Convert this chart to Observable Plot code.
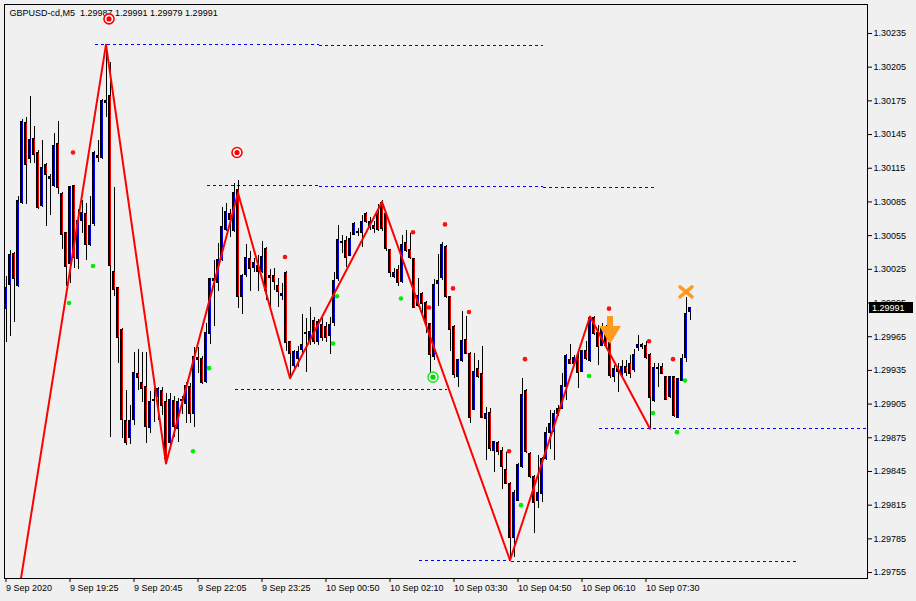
<!DOCTYPE html>
<html><head><meta charset="utf-8">
<script src="https://cdn.jsdelivr.net/npm/d3@7"></script>
<script src="https://cdn.jsdelivr.net/npm/@observablehq/plot@0.6"></script>
<style>html,body{margin:0;padding:0;background:#f0f0f0;} #chart svg{display:block}</style>
</head><body><div id="chart"></div>
<script>
const opens = [1.29990,1.30011,1.30039,1.30010,1.30084,1.30155,1.30123,1.30141,1.30129,1.30081,
1.30118,1.30107,1.30099,1.30137,1.30092,1.30057,1.30030,1.30099,1.30034,1.30068,
1.30074,1.30047,1.30065,1.30126,1.30124,1.30175,1.30179,1.30023,1.30008,1.29971,
1.29890,1.29875,1.29891,1.29932,1.29924,1.29920,1.29884,1.29909,1.29911,1.29917,
1.29907,1.29870,1.29908,1.29883,1.29908,1.29905,1.29920,1.29896,1.29946,1.29945,
1.29925,1.29967,1.30016,1.30013,1.30033,1.30060,1.30074,1.30059,1.30096,1.30000,
1.30020,1.30034,1.30026,1.30028,1.30023,1.30043,1.30019,1.30019,1.30010,1.30001,
1.30022,1.29960,1.29939,1.29945,1.29953,1.29968,1.29961,1.29979,1.29960,1.29975,
1.29974,1.29966,1.29977,1.30016,1.30048,1.30050,1.30037,1.30056,1.30057,1.30057,
1.30074,1.30062,1.30064,1.30074,1.30084,1.30074,1.30042,1.30018,1.30024,1.30014,
1.30048,1.30042,1.30034,1.29992,1.30003,1.29995,1.29976,1.29947,1.30012,1.30017,
1.30045,1.30000,1.29974,1.29929,1.29943,1.29962,1.29950,1.29900,1.29936,1.29932,
1.29892,1.29897,1.29863,1.29870,1.29863,1.29846,1.29834,1.29786,1.29819,1.29849,
1.29917,1.29861,1.29840,1.29819,1.29825,1.29856,1.29879,1.29880,1.29901,1.29901,
1.29920,1.29944,1.29941,1.29946,1.29934,1.29952,1.29943,1.29982,1.29968,1.29957,
1.29970,1.29959,1.29929,1.29936,1.29932,1.29938,1.29941,1.29935,1.29955,1.29958,
1.29957,1.29949,1.29908,1.29937,1.29938,1.29929,1.29911,1.29929,1.29893,1.29926,
1.29946,1.29987];
const highs = [1.30019,1.30042,1.30040,1.30090,1.30158,1.30160,1.30179,1.30152,1.30131,1.30140,
1.30119,1.30109,1.30146,1.30157,1.30093,1.30058,1.30099,1.30100,1.30078,1.30086,
1.30084,1.30090,1.30130,1.30140,1.30176,1.30225,1.30209,1.30098,1.30009,1.29972,
1.29917,1.29904,1.29951,1.29954,1.29951,1.29951,1.29916,1.29919,1.29920,1.29920,
1.29914,1.29914,1.29912,1.29910,1.29912,1.29924,1.29923,1.29955,1.29955,1.29947,
1.29977,1.30017,1.30033,1.30048,1.30080,1.30084,1.30078,1.30101,1.30104,1.30020,
1.30047,1.30041,1.30035,1.30037,1.30050,1.30044,1.30025,1.30026,1.30017,1.30012,
1.30023,1.29961,1.29953,1.29956,1.29985,1.29981,1.29991,1.29982,1.29980,1.29981,
1.29978,1.29982,1.30022,1.30064,1.30055,1.30054,1.30058,1.30067,1.30061,1.30073,
1.30076,1.30071,1.30068,1.30083,1.30086,1.30075,1.30043,1.30026,1.30028,1.30055,
1.30060,1.30057,1.30035,1.30017,1.30004,1.29996,1.29977,1.30016,1.30038,1.30049,
1.30046,1.30001,1.29975,1.29945,1.29987,1.29983,1.29951,1.29950,1.29944,1.29956,
1.29902,1.29901,1.29872,1.29872,1.29866,1.29862,1.29835,1.29828,1.29852,1.29928,
1.29918,1.29862,1.29841,1.29859,1.29857,1.29884,1.29899,1.29899,1.29904,1.29932,
1.29949,1.29958,1.29948,1.29952,1.29953,1.29961,1.29983,1.29983,1.29975,1.29977,
1.29975,1.29961,1.29939,1.29941,1.29944,1.29944,1.29948,1.29954,1.29966,1.29959,
1.29961,1.29950,1.29941,1.29941,1.29941,1.29930,1.29930,1.29930,1.29928,1.29949,
1.30000,1.29991];
const lows = [1.29960,1.29965,1.29978,1.30009,1.30083,1.30083,1.30119,1.30119,1.30078,1.30080,
1.30063,1.30073,1.30098,1.30092,1.30043,1.30010,1.30012,1.30026,1.30025,1.30057,
1.30033,1.30045,1.30063,1.30120,1.30123,1.30160,1.29875,1.30001,1.29941,1.29874,
1.29868,1.29869,1.29886,1.29917,1.29906,1.29870,1.29879,1.29889,1.29890,1.29895,
1.29852,1.29868,1.29875,1.29871,1.29896,1.29888,1.29888,1.29884,1.29932,1.29922,
1.29923,1.29958,1.29974,1.30005,1.30032,1.30059,1.30053,1.30058,1.29990,1.29985,
1.30018,1.30005,1.30022,1.30005,1.30021,1.29997,1.29990,1.30006,1.29991,1.29997,
1.29952,1.29928,1.29934,1.29938,1.29950,1.29933,1.29957,1.29958,1.29957,1.29961,
1.29960,1.29949,1.29974,1.30014,1.30039,1.30027,1.30036,1.30055,1.30054,1.30044,
1.30066,1.30060,1.30057,1.30059,1.30059,1.30041,1.30018,1.30017,1.30010,1.30012,
1.30040,1.30034,1.29990,1.29991,1.29986,1.29968,1.29932,1.29944,1.29992,1.30015,
1.29999,1.29952,1.29928,1.29920,1.29942,1.29949,1.29888,1.29899,1.29928,1.29892,
1.29855,1.29863,1.29844,1.29859,1.29829,1.29833,1.29766,1.29768,1.29818,1.29848,
1.29861,1.29839,1.29790,1.29812,1.29817,1.29855,1.29865,1.29855,1.29894,1.29900,
1.29908,1.29940,1.29940,1.29919,1.29933,1.29944,1.29942,1.29966,1.29939,1.29956,
1.29954,1.29928,1.29924,1.29915,1.29928,1.29930,1.29928,1.29933,1.29952,1.29954,
1.29945,1.29883,1.29906,1.29920,1.29931,1.29908,1.29910,1.29893,1.29892,1.29925,
1.29942,1.29979];
const closes = [1.30008,1.30038,1.30016,1.30086,1.30156,1.30118,1.30140,1.30127,1.30080,1.30115,
1.30109,1.30105,1.30135,1.30097,1.30056,1.30027,1.30098,1.30035,1.30068,1.30075,
1.30047,1.30064,1.30129,1.30124,1.30175,1.30173,1.30028,1.30007,1.29964,1.29891,
1.29870,1.29890,1.29933,1.29928,1.29918,1.29885,1.29907,1.29908,1.29918,1.29903,
1.29856,1.29909,1.29885,1.29907,1.29909,1.29921,1.29896,1.29947,1.29944,1.29924,
1.29968,1.30016,1.30015,1.30033,1.30063,1.30076,1.30069,1.30093,1.30000,1.30019,
1.30035,1.30025,1.30031,1.30023,1.30036,1.30006,1.30017,1.30014,1.30005,1.30003,
1.29959,1.29950,1.29951,1.29951,1.29958,1.29967,1.29969,1.29960,1.29978,1.29964,
1.29964,1.29975,1.30015,1.30051,1.30049,1.30035,1.30052,1.30065,1.30058,1.30067,
1.30067,1.30067,1.30061,1.30060,1.30061,1.30043,1.30022,1.30022,1.30013,1.30047,
1.30041,1.30035,1.29991,1.30001,1.29994,1.29977,1.29949,1.30011,1.30015,1.30047,
1.30000,1.29971,1.29931,1.29944,1.29961,1.29950,1.29893,1.29934,1.29929,1.29893,
1.29896,1.29865,1.29871,1.29862,1.29849,1.29834,1.29786,1.29826,1.29851,1.29913,
1.29862,1.29840,1.29817,1.29826,1.29856,1.29879,1.29887,1.29896,1.29896,1.29921,
1.29948,1.29941,1.29946,1.29933,1.29952,1.29945,1.29982,1.29967,1.29956,1.29973,
1.29957,1.29930,1.29936,1.29934,1.29938,1.29933,1.29932,1.29949,1.29958,1.29956,
1.29946,1.29910,1.29937,1.29936,1.29932,1.29909,1.29929,1.29894,1.29927,1.29945,
1.29985,1.29991];

const timeTicks = [0,16,32,48,64,80,96,112,128,144,160];
const timeLabels = ["9 Sep 2020","9 Sep 19:25","9 Sep 20:45","9 Sep 22:05","9 Sep 23:25",
  "10 Sep 00:50","10 Sep 02:10","10 Sep 03:30","10 Sep 04:50","10 Sep 06:10","10 Sep 07:30"];
const priceTicks = [1.29755,1.29785,1.29815,1.29845,1.29875,1.29905,1.29935,1.29965,1.29995,
  1.30025,1.30055,1.30085,1.30115,1.30145,1.30175,1.30205,1.30235];

const zigIdx = [0,25,40,58,71,94,126,146,161];
const zigPrice = [1.29666,1.30225,1.29852,1.30093,1.29928,1.30085,1.29766,1.29983,1.29883];

const redDotIdx = [17,70,102,106,110,112,116,126,130,151,161,167];
const redDotPrice = [1.30129,1.30036,1.30058,1.29991,1.30065,1.30008,1.29987,1.29863,1.29945,1.29990,1.29961,1.29945];
const greenDotIdx = [16,22,47,51,82,83,99,129,146,162,168,170];
const greenDotPrice = [1.29995,1.30028,1.29863,1.29937,1.29959,1.30001,1.29999,1.29815,1.29930,1.29897,1.29880,1.29926];

const targetIdx = [26,58];
const targetPrice = [1.30248,1.30129];
const greenTargetIdx = [107];
const greenTargetPrice = [1.29929];
const arrowIdx = [151];
const arrowPrice = [1.29970];
const crossIdx = [170];
const crossPrice = [1.30005];

const levelStart = [22,78,50,78,134,57,148,103,126];
const levelEnd = [78,134,78,134,162,110,215,126,198];
const levelPrice = [1.30225,1.30224,1.30100,1.30099,1.30098,1.29918,1.29883,1.29766,1.29765];

const title = "GBPUSD-cd,M5\u00a0 1.29987 1.29991 1.29979 1.29991";
const lastPrice = 1.29991;

const bars = opens.map((o, i) => ({i, open: o, high: highs[i], low: lows[i], close: closes[i],
  top: Math.max(o, closes[i]), bot: Math.min(o, closes[i])}));
const zig = zigIdx.map((x, k) => ({x, y: zigPrice[k]}));
const redDots = redDotIdx.map((x, k) => ({x, y: redDotPrice[k]}));
const greenDots = greenDotIdx.map((x, k) => ({x, y: greenDotPrice[k]}));
const targets = targetIdx.map((x, k) => ({x, y: targetPrice[k]}));
const gTargets = greenTargetIdx.map((x, k) => ({x, y: greenTargetPrice[k]}));
const arrows = arrowIdx.map((x, k) => ({x, y: arrowPrice[k]}));
const crosses = crossIdx.map((x, k) => ({x, y: crossPrice[k]}));
const levels = levelStart.map((s, k) => ({s, e: levelEnd[k], p: levelPrice[k]}));

const arrowSymbol = {draw(ctx) {
  ctx.moveTo(-3,-15); ctx.lineTo(3,-15); ctx.lineTo(3,-5); ctx.lineTo(11,-5);
  ctx.lineTo(0,13); ctx.lineTo(-11,-5); ctx.lineTo(-3,-5); ctx.closePath();
}};
const crossSymbol = {draw(ctx) {
  ctx.moveTo(-6,-5); ctx.lineTo(6,5); ctx.moveTo(-6,5); ctx.lineTo(6,-5);
}};

const orange = "#ff9a1e";
const font = "'Liberation Sans', Arial, sans-serif";

const chart = Plot.plot({
  width: 916, height: 601,
  marginLeft: 4, marginRight: 49, marginTop: 4, marginBottom: 23,
  style: {background: "#f0f0f0", fontFamily: font, fontSize: "9px", color: "black", overflow: "visible"},
  x: {domain: [-0.375, 215.375]},
  y: {domain: [1.297497, 1.302608]},
  marks: [
    Plot.text([title], {frameAnchor: "top-left", text: d => d, dx: 5, dy: 9, textAnchor: "start", lineAnchor: "middle", fill: "black", fontSize: 9}),
    Plot.link(levels, {x1: "s", x2: "e", y1: "p", y2: "p", stroke: "#0000ff", strokeWidth: 1, strokeDasharray: "3,3", dx: 0.5, shapeRendering: "crispEdges", clip: true}),
    Plot.ruleX(bars, {x: "i", y1: "low", y2: "high", stroke: "black", strokeWidth: 1, shapeRendering: "crispEdges"}),
    Plot.rect(bars, {x1: d => d.i - 0.375, x2: d => d.i + 0.375, y1: "top", y2: "bot", fill: "black",
      insetTop: -0.5, insetBottom: -0.5, shapeRendering: "crispEdges"}),
    Plot.ruleX(bars, {x: "i", y1: "top", y2: "bot", stroke: d => d.close >= d.open ? "#0000ff" : "#ff0000",
      strokeWidth: 1, insetTop: 0.5, insetBottom: 0.5, shapeRendering: "crispEdges"}),
    Plot.line(zig, {x: "x", y: "y", stroke: "#ff0000", strokeWidth: 2, clip: true}),
    Plot.dot(redDots, {x: "x", y: "y", r: 2.3, fill: "#ff1010", dx: -1}),
    Plot.dot(greenDots, {x: "x", y: "y", r: 2.3, fill: "#00ee00", dx: -1}),
    Plot.dot(targets, {x: "x", y: "y", r: 5, fill: "white", stroke: "#ff0000", strokeWidth: 1.6, dx: -1}),
    Plot.dot(targets, {x: "x", y: "y", r: 2.6, fill: "#ff0000", dx: -1}),
    Plot.dot(gTargets, {x: "x", y: "y", r: 5, fill: "white", stroke: "#22ee22", strokeWidth: 1.6, dx: -1}),
    Plot.dot(gTargets, {x: "x", y: "y", r: 2.6, fill: "#11cc11", dx: -1}),
    Plot.dot(arrows, {x: "x", y: "y", symbol: arrowSymbol, r: 5, fill: orange, stroke: "none"}),
    Plot.dot(crosses, {x: "x", y: "y", symbol: crossSymbol, r: 5, fill: "none", stroke: orange, strokeWidth: 3.5, strokeLinecap: "round"}),
    Plot.frame({stroke: "black", strokeWidth: 1, shapeRendering: "crispEdges"}),
    Plot.axisY(priceTicks, {anchor: "right", tickSize: 4, tickPadding: 2, tickFormat: d => d.toFixed(5), label: null, fontSize: 9, stroke: "black"}),
    Plot.axisX(timeTicks, {anchor: "bottom", tickSize: 4, tickPadding: 2, tickFormat: d => timeLabels[timeTicks.indexOf(d)], textAnchor: "start", label: null, fontSize: 9, stroke: "black"})
  ]
});

document.getElementById("chart").appendChild(chart);

// current price tag on the price axis
const ys = chart.scale("y");
const yy = Math.round(ys.apply(lastPrice));
const svg = d3.select(chart);
const right = 916 - 49;
svg.append("rect").attr("x", right + 2).attr("y", yy - 5).attr("width", 44).attr("height", 11).attr("fill", "black");
svg.append("text").attr("x", right + 5).attr("y", yy + 3.5).attr("fill", "white").attr("text-anchor", "start")
  .attr("font-family", font).attr("font-size", 9).text(lastPrice.toFixed(5));
</script>
</body></html>
